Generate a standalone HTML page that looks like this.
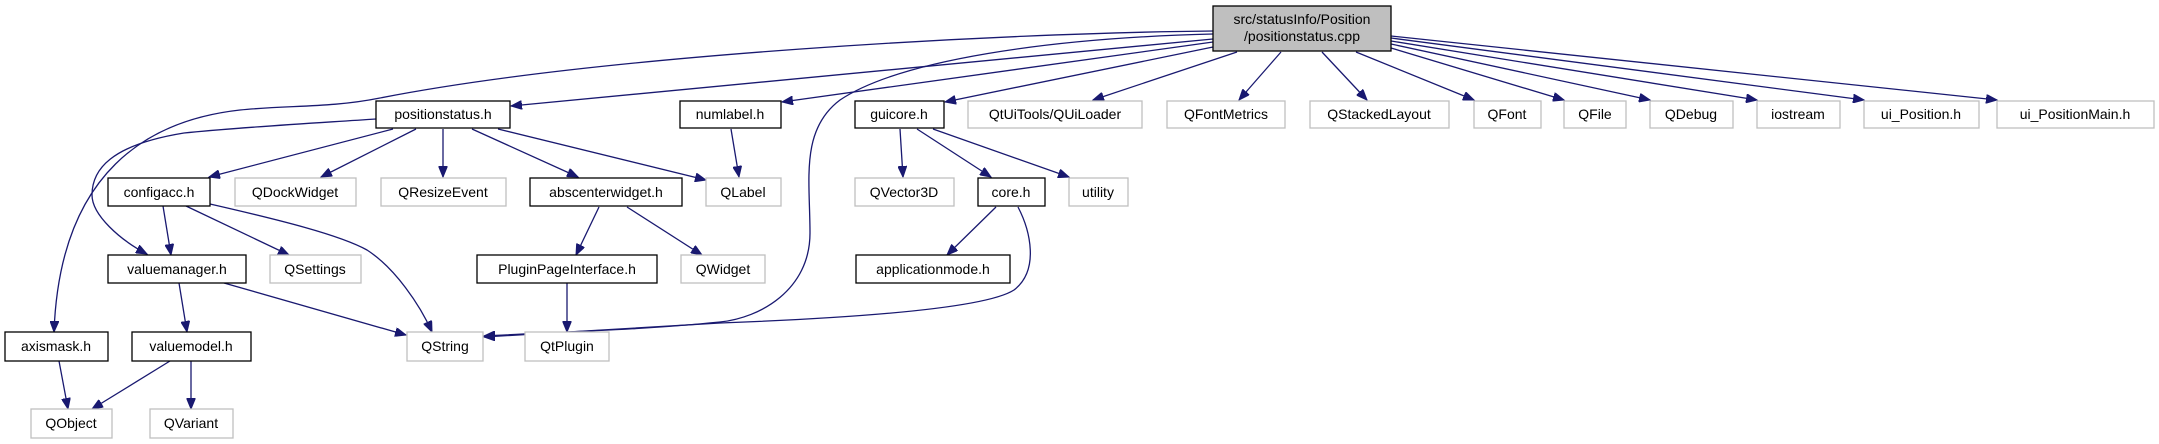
<!DOCTYPE html>
<html><head><meta charset="utf-8"><style>
html,body{margin:0;padding:0;background:#fff;}
svg{display:block;}
text{font-family:"Liberation Sans",Arial,sans-serif;font-size:14px;fill:#000;}
</style></head><body>
<svg width="2159" height="444" viewBox="0 0 2159 444" xmlns="http://www.w3.org/2000/svg">
<defs>
<marker id="a" markerWidth="12" markerHeight="9" refX="11" refY="4.5" orient="auto" markerUnits="userSpaceOnUse">
<path d="M0,0 L11,4.5 L0,9 z" fill="#191970" stroke="#191970"/>
</marker>
</defs>
<g fill="none" stroke="#191970" stroke-width="1.3" marker-end="url(#a)">
<!-- from main -->
<path d="M1213,31 C1000,33 600,55 380,98 C330,108 290,105 240,110 C150,120 60,170 54,332"/>
<path d="M1213,34 C1050,38 900,60 840,100 C800,130 810,180 810,233 C810,290 760,318 720,322 C640,330 560,332 484,336"/>
<path d="M1213,39 L511,106"/>
<path d="M1213,42 L782,102"/>
<path d="M1213,47 L945,102"/>
<path d="M1237,52 L1093,100"/>
<path d="M1281,52 L1239,100"/>
<path d="M1322,52 L1367,100"/>
<path d="M1356,52 L1474,100"/>
<path d="M1391,48 L1564,100"/>
<path d="M1391,44 L1650,100"/>
<path d="M1391,41 L1757,100"/>
<path d="M1391,38 L1864,100"/>
<path d="M1391,36 L1997,100"/>
<!-- positionstatus -->
<path d="M376,119 C300,124 230,128 184,133 C110,145 92,170 92,195 C92,215 120,240 147,254"/>
<path d="M393,129 L209,177"/>
<path d="M416,129 L321,177"/>
<path d="M443,129 L443,177"/>
<path d="M472,129 L578,177"/>
<path d="M498,129 L706,180"/>
<path d="M731,129 L739,177"/>
<!-- guicore -->
<path d="M900,129 L903,177"/>
<path d="M917,129 L991,177"/>
<path d="M933,129 L1069,177"/>
<path d="M996,207 L947,255"/>
<path d="M1018,207 C1030,230 1040,270 1014,290 C980,312 800,320 720,323 C640,328 560,333 484,337"/>
<!-- configacc -->
<path d="M163,206 L171,255"/>
<path d="M186,206 L289,255"/>
<path d="M210,204 C280,220 340,235 367,250 C395,268 420,305 432,332"/>
<!-- abscenter -->
<path d="M599,207 L576,255"/>
<path d="M627,207 L702,255"/>
<!-- valuemanager -->
<path d="M179,283 L187,332"/>
<path d="M224,283 L406,335"/>
<path d="M567,283 L567,332"/>
<path d="M59,361 L68,409"/>
<path d="M170,361 L92,409"/>
<path d="M191,361 L191,409"/>
</g>
<!-- nodes -->
<g stroke-width="1.3">
<rect x="1213" y="6" width="178" height="45" fill="#bfbfbf" stroke="#000"/>
<g fill="#fff" stroke="#000">
<rect x="376" y="101" width="134" height="27"/>
<rect x="680" y="101" width="101" height="27"/>
<rect x="855" y="101" width="89" height="27"/>
<rect x="108" y="178" width="102" height="28"/>
<rect x="530" y="178" width="152" height="28"/>
<rect x="978" y="178" width="67" height="28"/>
<rect x="108" y="255" width="138" height="28"/>
<rect x="477" y="255" width="180" height="28"/>
<rect x="856" y="255" width="154" height="28"/>
<rect x="5" y="332" width="103" height="29"/>
<rect x="132" y="332" width="119" height="29"/>
</g>
<g fill="#fff" stroke="#bfbfbf">
<rect x="968" y="101" width="174" height="27"/>
<rect x="1167" y="101" width="118" height="27"/>
<rect x="1310" y="101" width="139" height="27"/>
<rect x="1474" y="101" width="67" height="27"/>
<rect x="1564" y="101" width="62" height="27"/>
<rect x="1650" y="101" width="83" height="27"/>
<rect x="1757" y="101" width="83" height="27"/>
<rect x="1864" y="101" width="115" height="27"/>
<rect x="1997" y="101" width="157" height="27"/>
<rect x="235" y="178" width="121" height="28"/>
<rect x="381" y="178" width="125" height="28"/>
<rect x="706" y="178" width="75" height="28"/>
<rect x="855" y="178" width="99" height="28"/>
<rect x="1069" y="178" width="59" height="28"/>
<rect x="270" y="255" width="91" height="28"/>
<rect x="681" y="255" width="84" height="28"/>
<rect x="407" y="332" width="76" height="29"/>
<rect x="525" y="332" width="84" height="29"/>
<rect x="31" y="409" width="81" height="29"/>
<rect x="150" y="409" width="83" height="29"/>
</g>
</g>
<g text-anchor="middle">
<text x="1302" y="24">src/statusInfo/Position</text>
<text x="1302" y="41">/positionstatus.cpp</text>
<text x="443" y="119">positionstatus.h</text>
<text x="730" y="119">numlabel.h</text>
<text x="899" y="119">guicore.h</text>
<text x="1055" y="119">QtUiTools/QUiLoader</text>
<text x="1226" y="119">QFontMetrics</text>
<text x="1379" y="119">QStackedLayout</text>
<text x="1507" y="119">QFont</text>
<text x="1595" y="119">QFile</text>
<text x="1691" y="119">QDebug</text>
<text x="1798" y="119">iostream</text>
<text x="1921" y="119">ui_Position.h</text>
<text x="2075" y="119">ui_PositionMain.h</text>
<text x="159" y="197">configacc.h</text>
<text x="295" y="197">QDockWidget</text>
<text x="443" y="197">QResizeEvent</text>
<text x="606" y="197">abscenterwidget.h</text>
<text x="743" y="197">QLabel</text>
<text x="904" y="197">QVector3D</text>
<text x="1011" y="197">core.h</text>
<text x="1098" y="197">utility</text>
<text x="177" y="274">valuemanager.h</text>
<text x="315" y="274">QSettings</text>
<text x="567" y="274">PluginPageInterface.h</text>
<text x="723" y="274">QWidget</text>
<text x="933" y="274">applicationmode.h</text>
<text x="56" y="351">axismask.h</text>
<text x="191" y="351">valuemodel.h</text>
<text x="445" y="351">QString</text>
<text x="567" y="351">QtPlugin</text>
<text x="71" y="428">QObject</text>
<text x="191" y="428">QVariant</text>
</g>
</svg>
</body></html>
